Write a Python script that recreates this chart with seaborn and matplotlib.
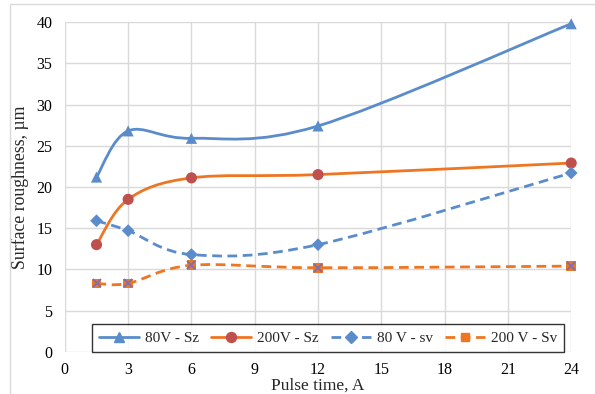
import numpy as np
import pandas as pd
import seaborn as sns
import matplotlib.pyplot as plt
from matplotlib.path import Path
from matplotlib.patches import PathPatch, Rectangle
from matplotlib.lines import Line2D

## data
pulse_time = [1.5, 3, 6, 12, 24]
sz_80v = [21.2, 26.8, 25.9, 27.4, 39.8]
sz_200v = [13.0, 18.5, 21.1, 21.5, 22.9]
sv_80v = [15.9, 14.7, 11.8, 13.0, 21.7]
sv_200v = [8.3, 8.3, 10.5, 10.2, 10.4]
labels = ['80V - Sz', '200V - Sz', '80 V - sv', '200 V - Sv']
x_ticks = [0, 3, 6, 9, 12, 15, 18, 21, 24]
y_ticks = [0, 5, 10, 15, 20, 25, 30, 35, 40]

BLUE = '#5a8ccc'
ORANGE = '#ee7623'
RED = '#c0504d'

sns.set_theme(style='whitegrid')
plt.rcParams['font.family'] = ['Liberation Serif', 'DejaVu Serif']


def smooth_path(xs, ys, t=1 / 6):
    # excel-like smoothed line: cubic bezier through the points
    pts = list(zip(xs, ys))
    verts = [pts[0]]
    codes = [Path.MOVETO]
    n = len(pts)
    for i in range(n - 1):
        p0 = pts[max(i - 1, 0)]
        p1 = pts[i]
        p2 = pts[i + 1]
        p3 = pts[min(i + 2, n - 1)]
        c1 = (p1[0] + (p2[0] - p0[0]) * t, p1[1] + (p2[1] - p0[1]) * t)
        c2 = (p2[0] - (p3[0] - p1[0]) * t, p2[1] - (p3[1] - p1[1]) * t)
        verts += [c1, c2, p2]
        codes += [Path.CURVE4] * 3
    return Path(verts, codes)


fig = plt.figure(figsize=(5.95, 3.94), dpi=100)
ax = fig.add_axes([0.109, 0.107, 0.851, 0.837])

series = [
    (sz_80v, BLUE, '-', '^', BLUE, 8),
    (sz_200v, ORANGE, '-', 'o', RED, 8),
    (sv_80v, BLUE, (0, (3.5, 2)), 'D', BLUE, 6.5),
    (sv_200v, ORANGE, (0, (3.5, 2)), 's', ORANGE, 7),
]

handles = []
for (vals, lc, ls, mk, mc, ms), lab in zip(series, labels):
    patch = PathPatch(smooth_path(pulse_time, vals), facecolor='none', edgecolor=lc,
                      lw=2, linestyle=ls, zorder=3)
    ax.add_patch(patch)
    df = pd.DataFrame({'x': pulse_time, 'y': vals})
    sns.scatterplot(data=df, x='x', y='y', marker=mk, color=mc, s=ms ** 2,
                    edgecolor='none', linewidth=0, ax=ax, zorder=4, legend=False,
                    clip_on=False)
    if mk == 's':
        ax.plot(pulse_time, vals, linestyle='none', marker='x', color='#7a6fb5',
                markersize=5.5, mew=1.3, zorder=5, clip_on=False)
    handles.append(Line2D([], [], color=lc, lw=2, linestyle=ls, marker=mk,
                          markerfacecolor=mc, markeredgecolor=mc, markersize=ms * 0.9))

ax.set_xlim(0, 24)
ax.set_ylim(0, 40)
ax.set_xticks(x_ticks)
ax.set_yticks(y_ticks)
ax.grid(True, color='#d9d9d9', lw=1)
for sp in ax.spines.values():
    sp.set_visible(False)
ax.tick_params(axis='x', labelsize=11.5, colors='#000000', length=0, pad=7)
ax.tick_params(axis='y', labelsize=11.5, colors='#000000', length=0, pad=9)
ax.set_xlabel('Pulse time, A', fontsize=12.5, labelpad=0)
ax.set_ylabel('Surface roughness, µm', fontsize=12.8, labelpad=5)

leg = ax.legend(handles, labels, ncol=4, loc='lower center', bbox_to_anchor=(0.52, 0.0),
                fontsize=11, frameon=True, fancybox=False, shadow=False,
                handlelength=2.6, columnspacing=0.8, handletextpad=0.4,
                borderpad=0.45, borderaxespad=0.0)
leg.get_frame().set_edgecolor('#000000')
leg.get_frame().set_linewidth(1.0)
leg.set_zorder(10)

# outer chart border
fig.patches.append(Rectangle((10 / 595, -0.05), 1.0, 1.05 - 4 / 394, transform=fig.transFigure,
                             fill=False, edgecolor='#d9d9d9', lw=1))

fig.savefig('out.png', dpi=100)
